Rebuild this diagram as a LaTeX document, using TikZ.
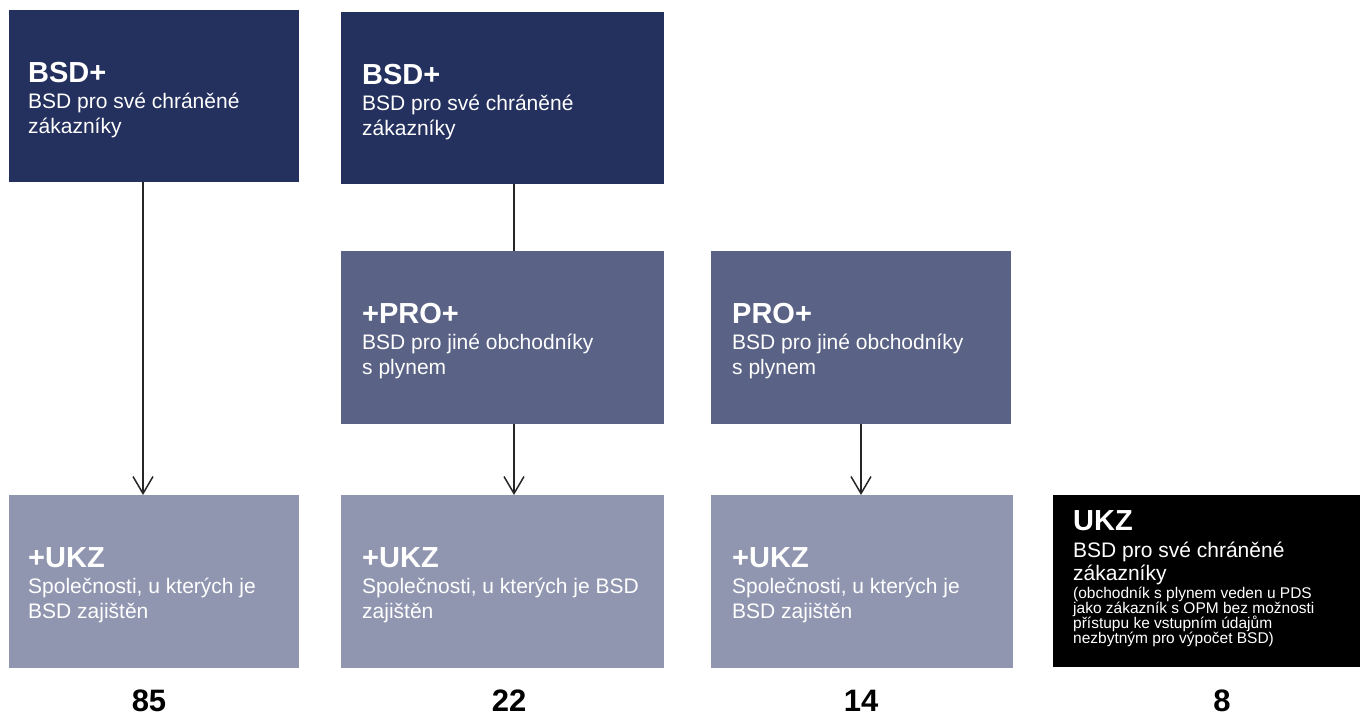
\documentclass[tikz,border=0pt]{standalone}
\usepackage{fontspec}
\setmainfont{Liberation Sans}
\usetikzlibrary{arrows.meta}
\definecolor{cdark}{HTML}{24305E}
\definecolor{cmid}{HTML}{5A6386}
\definecolor{clight}{HTML}{9096B0}
\definecolor{cline}{HTML}{262626}
\tikzset{
  boxbase/.style={rectangle, anchor=north west, inner sep=0pt, outer sep=0pt, draw=none},
  darkbox/.style={boxbase, fill=cdark},
  midbox/.style={boxbase, fill=cmid},
  lightbox/.style={boxbase, fill=clight},
  blackbox/.style={boxbase, fill=black},
  ttl/.style={anchor=base west, inner sep=0pt, text=white, font=\fontsize{29}{34}\selectfont\bfseries},
  bodytxt/.style={anchor=base west, inner sep=0pt, text=white, font=\fontsize{21}{25}\selectfont},
  smalltxt/.style={anchor=base west, inner sep=0pt, text=white, font=\fontsize{15.5}{15}\selectfont},
  numtxt/.style={anchor=base, inner sep=0pt, text depth=0pt, text=black, font=\fontsize{31}{36}\selectfont\bfseries},
  conn/.style={draw=cline, line width=1.5pt},
  arr/.style={conn, -{Straight Barb[length=17pt,width=20pt,line width=1.5pt]}}
}
\begin{document}
\begin{tikzpicture}[x=1pt,y=-1pt]
\useasboundingbox (0,0) rectangle (1360,715);
% boxes
\node[darkbox, minimum width=290pt, minimum height=172pt] (A) at (9,10) {};
\node[darkbox, minimum width=323pt, minimum height=172pt] (B) at (341,12) {};
\node[midbox, minimum width=323pt, minimum height=173pt] (C) at (341,251) {};
\node[midbox, minimum width=300pt, minimum height=173pt] (D) at (711,251) {};
\node[lightbox, minimum width=290pt, minimum height=173pt] (E) at (9,495) {};
\node[lightbox, minimum width=323pt, minimum height=173pt] (F) at (341,495) {};
\node[lightbox, minimum width=302pt, minimum height=173pt] (G) at (711,495) {};
\node[blackbox, minimum width=307pt, minimum height=172pt] (H) at (1053,495) {};
% texts A
\node[ttl] (At) at (28,82) {BSD+};
\node[bodytxt] (A1) at (28,108) {BSD pro své chráněné};
\node[bodytxt] (A2) at (28,133) {zákazníky};
% texts B
\node[ttl] (Bt) at (362,84) {BSD+};
\node[bodytxt] (B1) at (362,110) {BSD pro své chráněné};
\node[bodytxt] (B2) at (362,135) {zákazníky};
% texts C
\node[ttl] (Ct) at (362,323) {+PRO+};
\node[bodytxt] (C1) at (362,349) {BSD pro jiné obchodníky};
\node[bodytxt] (C2) at (362,374) {s plynem};
% texts D
\node[ttl] (Dt) at (732,323) {PRO+};
\node[bodytxt] (D1) at (732,349) {BSD pro jiné obchodníky};
\node[bodytxt] (D2) at (732,374) {s plynem};
% texts E
\node[ttl] (Et) at (28,567) {+UKZ};
\node[bodytxt] (E1) at (28,593) {Společnosti, u kterých je};
\node[bodytxt] (E2) at (28,618) {BSD zajištěn};
% texts F
\node[ttl] (Ft) at (362,567) {+UKZ};
\node[bodytxt] (F1) at (362,593) {Společnosti, u kterých je BSD};
\node[bodytxt] (F2) at (362,618) {zajištěn};
% texts G
\node[ttl] (Gt) at (732,567) {+UKZ};
\node[bodytxt] (G1) at (732,593) {Společnosti, u kterých je};
\node[bodytxt] (G2) at (732,618) {BSD zajištěn};
% texts H
\node[ttl] (Ht) at (1073,530) {UKZ};
\node[bodytxt] (H1) at (1073,557) {BSD pro své chráněné};
\node[bodytxt] (H2) at (1073,580) {zákazníky};
\node[smalltxt] (H3) at (1073,598) {(obchodník s plynem veden u PDS};
\node[smalltxt] (H4) at (1073,613) {jako zákazník s OPM bez možnosti};
\node[smalltxt] (H5) at (1073,628) {přístupu ke vstupním údajům};
\node[smalltxt] (H6) at (1073,643) {nezbytným pro výpočet BSD)};
% numbers
\node[numtxt] (n1) at (149,711) {85};
\node[numtxt] (n2) at (509,711) {22};
\node[numtxt] (n3) at (861,711) {14};
\node[numtxt] (n4) at (1222,711) {8};
% connectors
\draw[arr] (A.south -| 143,0) -- (E.north -| 143,0);
\draw[conn] (B.south -| 514,0) -- (C.north -| 514,0);
\draw[arr] (C.south -| 514,0) -- (F.north -| 514,0);
\draw[arr] (D.south -| 861,0) -- (G.north -| 861,0);
\end{tikzpicture}
\end{document}
